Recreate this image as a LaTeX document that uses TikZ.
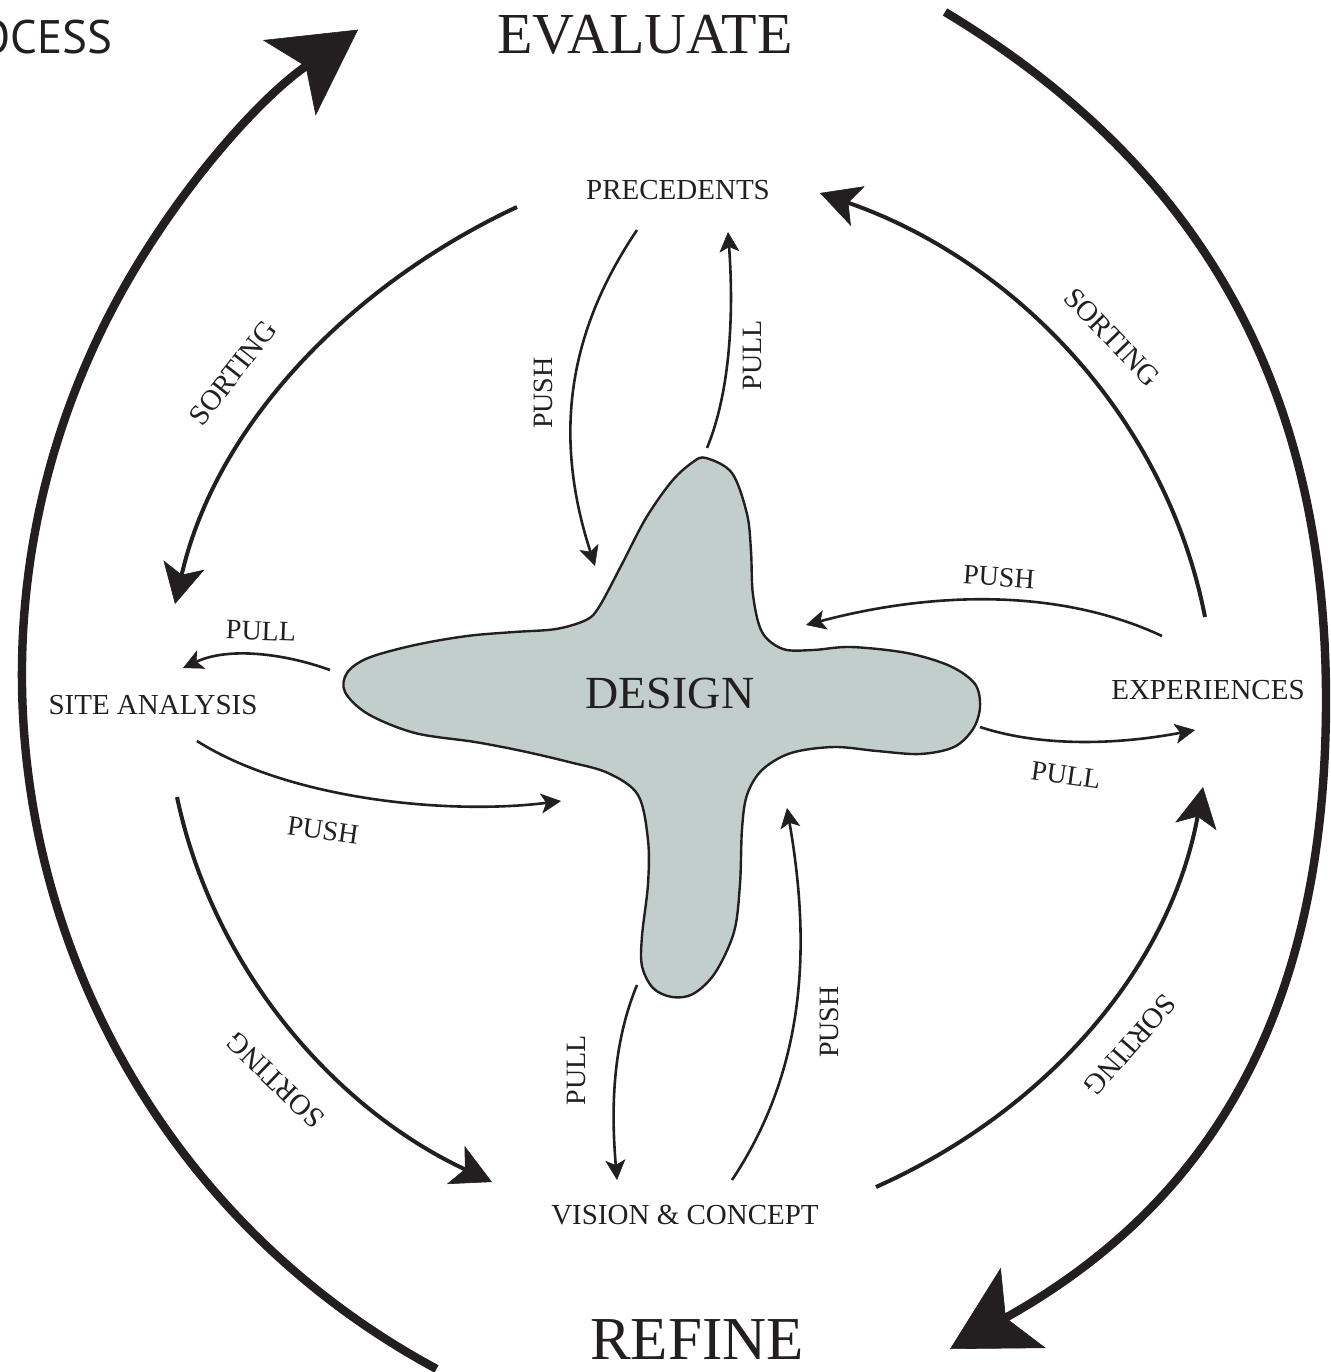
\documentclass[tikz,border=0pt]{standalone}
\usepackage{fontspec}
\setmainfont{Liberation Serif}
\newfontfamily\procfont{PT Sans}
\usetikzlibrary{arrows.meta}
\definecolor{ink}{RGB}{35,31,32}
\definecolor{blobfill}{RGB}{193,206,203}
\begin{document}
\begin{tikzpicture}[x=0.5pt,y=-0.5pt,
  txt/.style={text=ink, inner sep=0pt, font=\fontsize{14.5}{16}\selectfont},
  lab/.style={text=ink, inner sep=0pt, font=\fontsize{14}{16}\selectfont},
  bigtxt/.style={text=ink, inner sep=0pt, font=\fontsize{29}{32}\selectfont},
  thinarrow/.style={draw=ink, line width=1.3pt, -{Stealth[length=10pt,width=10pt,inset=2.5pt,line width=0.3pt]}},
  midarrow/.style={draw=ink, line width=2pt, -{Stealth[length=20pt,width=21pt,inset=5pt,line width=0.3pt]}},
  bigarrow/.style={draw=ink, line width=4.2pt, -{Stealth[length=42pt,width=46pt,inset=10pt,line width=0.3pt]}},
  blob/.style={draw=ink, line width=1.2pt, fill=blobfill}
]
\useasboundingbox (0,0) rectangle (1331,1372);

% central blob
\draw[blob] plot[smooth cycle, tension=0.55] coordinates {
(706,458) (732,473) (747,514) (751,551) (753,595) (762,632) (783,649) (813,650)
(851,647) (907,653) (950,666) (975,684) (980,707) (973,729) (954,747) (920,754)
(877,751) (834,747) (791,753) (762,770) (747,795) (742,829) (740,884) (734,932)
(715,973) (693,994) (672,997) (653,988) (642,966) (642,936) (648,884) (648,840)
(638,795) (608,773) (569,762) (522,751) (475,742) (415,733) (368,714) (345,692)
(347,673) (368,658) (415,645) (467,636) (514,632) (556,629) (586,620) (599,607)
(621,566) (646,518) (672,481) (693,462)};

% texts
\node[bigtxt] (evaluate) at (645,35) {EVALUATE};
\node[bigtxt, font=\fontsize{30.5}{32}\selectfont] (refine) at (697,1340) {REFINE};
\node[text=ink, inner sep=0pt, anchor=east, font=\procfont\fontsize{23.5}{26}\selectfont] (process) at (113,37) {OCESS};
\node[txt] (prec) at (678,190) {PRECEDENTS};
\node[txt] (site) at (153,705) {SITE ANALYSIS};
\node[txt] (exp) at (1208,690) {EXPERIENCES};
\node[txt] (vision) at (685,1215) {VISION \& CONCEPT};
\node[text=ink, inner sep=0pt, font=\fontsize{23}{26}\selectfont] (design) at (670,693) {DESIGN};

\node[lab, rotate=90] (l1) at (543,393) {PUSH};
\node[lab, rotate=90] (l2) at (752,355) {PULL};
\node[lab, rotate=-4] (l3) at (999,577) {PUSH};
\node[lab, rotate=-8] (l4) at (1066,775) {PULL};
\node[lab, rotate=-2] (l5) at (261,631) {PULL};
\node[lab, rotate=-8] (l6) at (323,830) {PUSH};
\node[lab, rotate=90] (l7) at (576,1070) {PULL};
\node[lab, rotate=90] (l8) at (829,1022) {PUSH};
\node[txt, rotate=52] (s1) at (233,373) {SORTING};
\node[txt, rotate=-46] (s2) at (1112,337) {SORTING};
\node[txt, rotate=136] (s3) at (275,1080) {SORTING};
\node[txt, rotate=-131] (s4) at (1130,1045) {SORTING};

% connector end points
\coordinate (a1s) at (637,230);  \coordinate (a1e) at (595,566);
\coordinate (a2s) at (707,448);  \coordinate (a2e) at (728,232);
\coordinate (a3s) at (1162,636); \coordinate (a3e) at (806,625);
\coordinate (a4s) at (980,727);  \coordinate (a4e) at (1195,730);
\coordinate (a5s) at (330,670);  \coordinate (a5e) at (183,668);
\coordinate (a6s) at (197,741);  \coordinate (a6e) at (561,801);
\coordinate (a7s) at (637,985);  \coordinate (a7e) at (617,1180);
\coordinate (a8s) at (732,1180); \coordinate (a8e) at (787,808);

\coordinate (m1s) at (517,207);  \coordinate (m1e) at (175,604);
\coordinate (m2s) at (1205,617); \coordinate (m2e) at (820,193);
\coordinate (m3s) at (177,797);  \coordinate (m3e) at (492,1182);
\coordinate (m4s) at (876,1187); \coordinate (m4e) at (1203,787);

\coordinate (brs) at (945,12); \coordinate (brm) at (1326,700); \coordinate (bre) at (950,1349);
\coordinate (bls) at (436.5,1368.9);

% thin push / pull arrows
\draw[thinarrow] (a1s) .. controls (564,338) and (555,442) .. (a1e);
\draw[thinarrow] (a2s) .. controls (733,385) and (733,300) .. (a2e);
\draw[thinarrow] (a3s) .. controls (1053,585) and (922,594) .. (a3e);
\draw[thinarrow] (a4s) .. controls (1047,749) and (1127,743) .. (a4e);
\draw[thinarrow] (a5s) .. controls (283,653) and (228,647) .. (a5e);
\draw[thinarrow] (a6s) .. controls (290,800) and (450,815) .. (a6e);
\draw[thinarrow] (a7s) .. controls (610,1050) and (612,1120) .. (a7e);
\draw[thinarrow] (a8s) .. controls (812,1060) and (808,930) .. (a8e);

% sorting arrows
\draw[midarrow] (m1s) .. controls (350,285) and (216,425) .. (m1e);
\draw[midarrow] (m2s) .. controls (1166,416) and (1013,260) .. (m2e);
\draw[midarrow] (m3s) .. controls (213,968) and (334,1108) .. (m3e);
\draw[midarrow] (m4s) .. controls (1048,1110) and (1170,967) .. (m4e);

% big cycle arrows
\draw[bigarrow] (brs) .. controls (1211,172) and (1326,400) .. (brm)
                      .. controls (1326,1010) and (1212,1202) .. (bre);
\draw[bigarrow] (bls) arc[start angle=118.3, end angle=235, radius=788];
\end{tikzpicture}
\end{document}
